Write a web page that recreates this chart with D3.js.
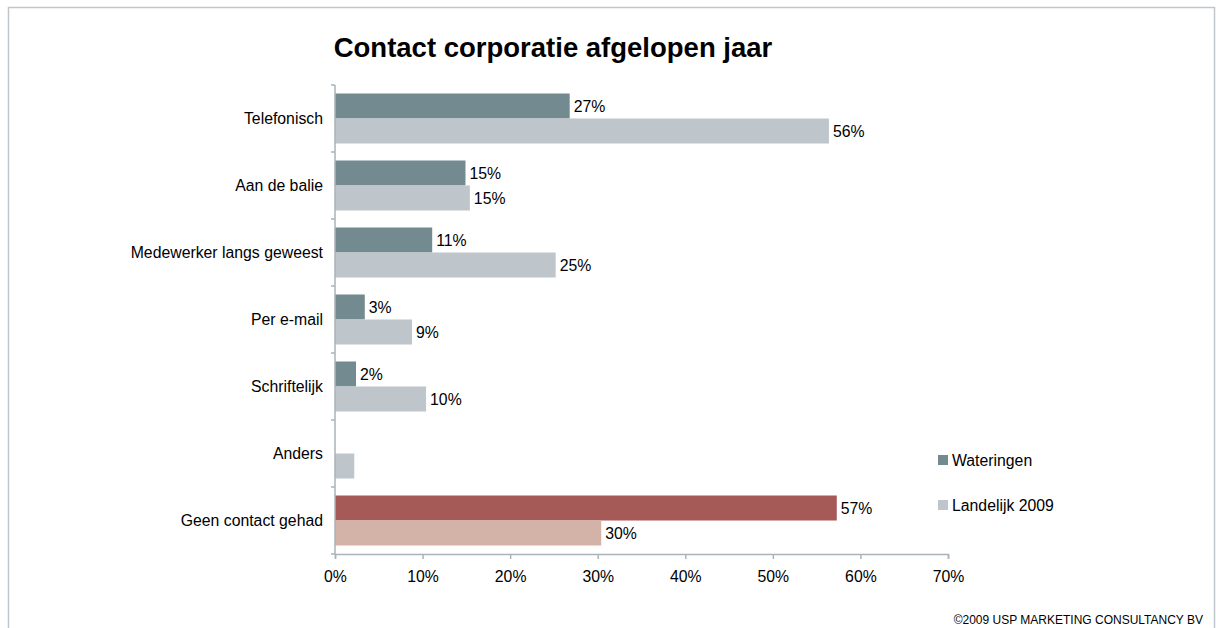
<!DOCTYPE html>
<html>
<head>
<meta charset="utf-8">
<script src="https://cdn.jsdelivr.net/npm/d3@7"></script>
<style>
  html, body { margin: 0; padding: 0; background: #fff; }
  svg { display: block; font-family: "Liberation Sans", Arial, sans-serif; }
</style>
</head>
<body>
<svg id="chart" width="1216" height="628"></svg>
<script>
// Contact with the housing corporation in the past year (% of respondents)
const categories = ["Telefonisch", "Aan de balie", "Medewerker langs geweest", "Per e-mail", "Schriftelijk", "Anders", "Geen contact gehad"];
const wateringen = [26.8, 14.9, 11.1, 3.4, 2.4, 0, 57.3];
const landelijk = [56.4, 15.4, 25.2, 8.8, 10.4, 2.2, 30.4];
const seriesNames = ["Wateringen", "Landelijk 2009"];
const xTicks = [0, 10, 20, 30, 40, 50, 60, 70];

const colors = {
  base: ["#738a90", "#bec6cc"],
  highlight: ["#a65a58", "#d3b3a8"]
};
const highlightCategory = "Geen contact gehad";
const unlabeledCategory = "Anders";

const svg = d3.select("#chart");
const FONT = 15.8;

// outer frame
svg.append("rect")
  .attr("x", 8.5).attr("y", 7.5)
  .attr("width", 1206).attr("height", 630)
  .attr("fill", "none").attr("stroke", "#bfc7cc").attr("stroke-width", 1.5);

svg.append("text")
  .attr("x", 553).attr("y", 57)
  .attr("text-anchor", "middle")
  .attr("font-size", 27.5).attr("font-weight", "bold")
  .attr("fill", "#000")
  .text("Contact corporatie afgelopen jaar");

const plot = { left: 335, right: 948, top: 85, bottom: 554 };

const x = d3.scaleLinear().domain([0, 70]).range([plot.left, plot.right]);
const y = d3.scaleBand().domain(categories).range([plot.top, plot.bottom]).paddingInner(0).paddingOuter(0);
const inner = d3.scaleBand().domain([0, 1]).range([0, y.bandwidth()]).paddingInner(0).paddingOuter(0.34);

const rows = categories.map((c, i) => ({ cat: c, vals: [wateringen[i], landelijk[i]] }));

const groups = svg.append("g").selectAll("g.cat").data(rows).join("g")
  .attr("class", "cat")
  .attr("transform", d => `translate(0,${y(d.cat)})`);

const fmt = v => d3.format(".0f")(v) + "%";

groups.each(function(d) {
  const sel = d3.select(this);
  const pal = d.cat === highlightCategory ? colors.highlight : colors.base;
  d.vals.forEach((v, j) => {
    if (v <= 0) return;
    sel.append("rect")
      .attr("x", x(0))
      .attr("y", inner(j))
      .attr("width", x(v) - x(0))
      .attr("height", inner.bandwidth())
      .attr("fill", pal[j]);
    if (d.cat !== unlabeledCategory) {
      sel.append("text")
        .attr("x", x(v) + 4)
        .attr("y", inner(j) + inner.bandwidth() / 2 + 0.5)
        .attr("dy", "0.35em")
        .attr("font-size", FONT)
        .attr("fill", "#000")
        .text(fmt(v));
    }
  });
});

// x axis
const xAxis = d3.axisBottom(x).tickValues(xTicks).tickFormat(d => d + "%").tickSize(5).tickPadding(12);
const gx = svg.append("g").attr("transform", `translate(0,${plot.bottom})`).call(xAxis);
gx.select(".domain").attr("stroke", "#a9b3b9").attr("stroke-width", 1.5);
gx.selectAll(".tick line").attr("stroke", "#a9b3b9").attr("stroke-width", 1.5);
gx.selectAll(".tick text").attr("font-size", FONT).attr("fill", "#000").attr("font-family", "Liberation Sans, Arial, sans-serif");

// y axis: category boundaries as ticks
const yAxisLine = svg.append("g");
yAxisLine.append("line")
  .attr("x1", plot.left).attr("x2", plot.left)
  .attr("y1", plot.top).attr("y2", plot.bottom)
  .attr("stroke", "#a9b3b9").attr("stroke-width", 1.5);
const boundaries = categories.map(c => y(c)).concat([plot.bottom]);
yAxisLine.selectAll("line.b").data(boundaries).join("line")
  .attr("class", "b")
  .attr("x1", plot.left - 4).attr("x2", plot.left)
  .attr("y1", d => d).attr("y2", d => d)
  .attr("stroke", "#a9b3b9").attr("stroke-width", 1.5);

svg.append("g").selectAll("text").data(categories).join("text")
  .attr("x", plot.left - 12)
  .attr("y", d => y(d) + y.bandwidth() / 2)
  .attr("dy", "0.35em")
  .attr("text-anchor", "end")
  .attr("font-size", FONT)
  .attr("fill", "#000")
  .text(d => d);

// legend
const legend = svg.append("g").attr("transform", "translate(938,455)");
seriesNames.forEach((name, i) => {
  const lg = legend.append("g").attr("transform", `translate(0,${i * 45})`);
  lg.append("rect").attr("width", 10).attr("height", 10).attr("fill", colors.base[i]);
  lg.append("text").attr("x", 14).attr("y", 5).attr("dy", "0.35em")
    .attr("font-size", FONT).attr("fill", "#000").text(name);
});

svg.append("text")
  .attr("x", 1203).attr("y", 624)
  .attr("text-anchor", "end")
  .attr("font-size", 12)
  .attr("fill", "#000")
  .text("©2009 USP MARKETING CONSULTANCY BV");
</script>
</body>
</html>
